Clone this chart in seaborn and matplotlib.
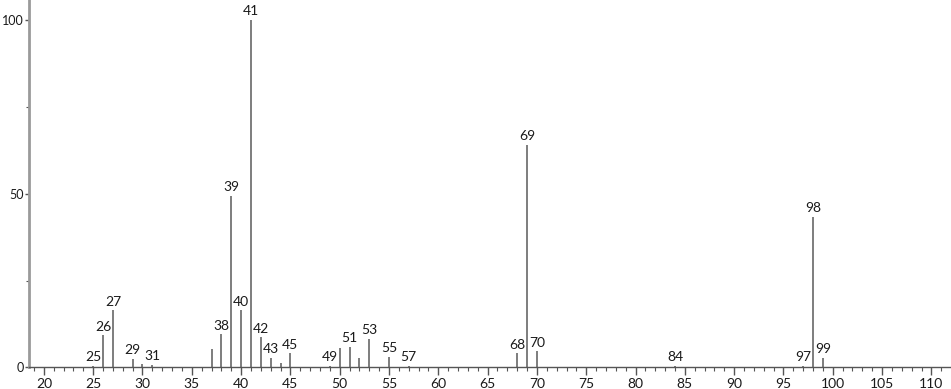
import matplotlib
matplotlib.use("Agg")
import matplotlib.pyplot as plt
from matplotlib.ticker import MultipleLocator
import seaborn as sns
import pandas as pd

# m/z values and relative intensities
mz = [25, 26, 27, 29, 30, 31, 37, 38, 39, 40, 41, 42, 43, 44, 45,
      49, 50, 51, 52, 53, 55, 57, 68, 69, 70, 84, 97, 98, 99]
intensity = [0.3, 9.2, 16.4, 2.4, 0.9, 0.6, 5.2, 9.5, 49.3, 16.4, 100.0, 8.6, 2.6, 1.1, 4.0,
             0.3, 5.6, 5.8, 2.6, 8.1, 3.1, 0.3, 4.0, 64.0, 4.6, 0.3, 0.5, 43.3, 2.6]
labeled = [25, 26, 27, 29, 31, 38, 39, 40, 41, 42, 43, 45, 49, 51, 53, 55, 57,
           68, 69, 70, 84, 97, 98, 99]

df = pd.DataFrame({"mz": mz, "intensity": intensity})

sns.set_theme(style="white")
plt.rcParams["font.family"] = ["Lato", "DejaVu Sans"]

W, H = 951, 389
fig = plt.figure(figsize=(W / 100, H / 100), dpi=100)
ax = fig.add_axes([29 / W, (H - 367.3) / H, (W - 29) / W, 367.3 / H])

ax.vlines(df["mz"], 0, df["intensity"], color="#5a5a5a", linewidth=1.1)

for m, v in zip(df["mz"], df["intensity"]):
    if m in labeled:
        ax.annotate(str(m), (m, v), xytext=(0, 2), textcoords="offset points",
                    ha="center", va="bottom", fontsize=10, color="#1a1a1a")

ax.set_xlim(18.49, 111.99)
ax.set_ylim(0, 105.8)

ax.xaxis.set_major_locator(MultipleLocator(5))
ax.xaxis.set_minor_locator(MultipleLocator(1))
ax.yaxis.set_major_locator(MultipleLocator(50))
ax.yaxis.set_minor_locator(MultipleLocator(25))
ax.set_xticks(range(20, 111, 5))

ax.tick_params(axis="x", which="major", bottom=True, length=6, width=1, color="#555555",
               labelsize=10, labelcolor="#1a1a1a", pad=2)
ax.tick_params(axis="x", which="minor", bottom=True, length=3, width=0.8, color="#555555")
ax.tick_params(axis="y", which="major", left=True, length=3, width=1, color="#555555",
               labelsize=9, labelcolor="#1a1a1a", pad=0.5)
ax.tick_params(axis="y", which="minor", left=True, length=2, width=0.8, color="#555555")

for s in ("top", "right"):
    ax.spines[s].set_visible(False)
ax.spines["left"].set_color("#9a9a9a")
ax.spines["left"].set_linewidth(2)
ax.spines["bottom"].set_color("#555555")
ax.spines["bottom"].set_linewidth(1)
ax.set_xlabel("")
ax.set_ylabel("")
ax.patch.set_alpha(0)

fig.savefig("out.png", dpi=100, facecolor="white")
